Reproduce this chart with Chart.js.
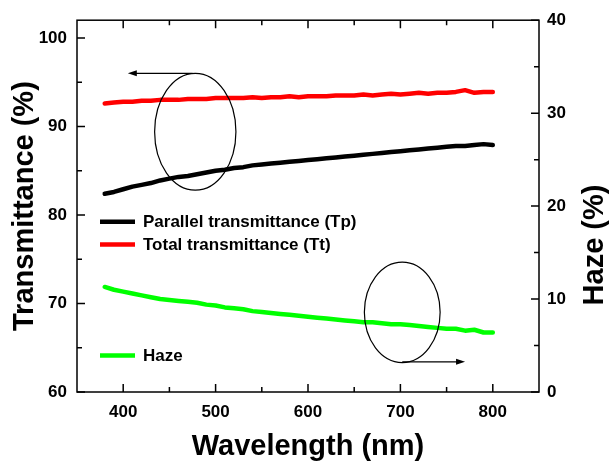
<!DOCTYPE html>
<html>
<head>
<meta charset="utf-8">
<script src="https://cdn.jsdelivr.net/npm/chart.js@4"></script>
<style>
html, body { margin: 0; padding: 0; background: #fff; }
</style>
</head>
<body>
<canvas id="chart" width="615" height="462"></canvas>
<script>
// wavelength (nm), read every 10 nm from the figure
const wavelength = [380,390,400,410,420,430,440,450,460,470,480,490,500,510,520,530,540,550,560,570,580,590,600,
  610,620,630,640,650,660,670,680,690,700,710,720,730,740,750,760,770,780,790,800];
// parallel transmittance Tp (%)  -> left axis
const parallelT = [82.4,82.6,82.9,83.2,83.4,83.6,83.9,84.1,84.3,84.4,84.6,84.8,85.0,85.1,85.3,85.4,85.6,85.7,85.8,85.9,86.0,86.1,86.2,
  86.3,86.4,86.5,86.6,86.7,86.8,86.9,87.0,87.1,87.2,87.3,87.4,87.5,87.6,87.7,87.8,87.8,87.9,88.0,87.9];
// total transmittance Tt (%)  -> left axis
const totalT = [92.6,92.7,92.8,92.8,92.9,92.9,93.0,93.0,93.0,93.1,93.1,93.1,93.2,93.2,93.2,93.2,93.3,93.2,93.3,93.3,93.4,93.3,93.4,
  93.4,93.4,93.5,93.5,93.5,93.6,93.5,93.6,93.7,93.6,93.7,93.8,93.7,93.8,93.8,93.9,94.1,93.8,93.9,93.9];
// haze (%)  -> right axis
const haze = [11.3,11.0,10.8,10.6,10.4,10.2,10.0,9.9,9.8,9.7,9.6,9.4,9.3,9.1,9.0,8.9,8.7,8.6,8.5,8.4,8.3,8.2,8.1,
  8.0,7.9,7.8,7.7,7.6,7.5,7.5,7.4,7.3,7.3,7.2,7.1,7.0,6.9,6.8,6.8,6.6,6.7,6.4,6.4];

const xTicks = [400, 500, 600, 700, 800];
const leftTicks = [60, 70, 80, 90, 100];
const rightTicks = [0, 10, 20, 30, 40];

const FONT = "'Liberation Sans', Arial, sans-serif";

function pts(ys) {
  return wavelength.map((x, i) => ({ x: x, y: ys[i] }));
}

// frame, inward ticks (major + minor), circles/arrows, legend, right title
const decor = {
  id: 'decor',
  afterDatasetsDraw(chart) {
    const ctx = chart.ctx;
    const a = chart.chartArea;
    const sx = chart.scales.x, sl = chart.scales.yL, sr = chart.scales.yR;
    ctx.save();
    ctx.strokeStyle = '#000';
    ctx.lineWidth = 1.5;
    ctx.strokeRect(a.left, a.top, a.right - a.left, a.bottom - a.top);

    function tickSet(list) {
      const out = [];
      for (let i = 0; i < list.length; i++) {
        out.push([list[i], 8]);
        if (i < list.length - 1) out.push([(list[i] + list[i + 1]) / 2, 5]);
      }
      return out;
    }
    ctx.beginPath();
    tickSet(xTicks).forEach(([v, len]) => {
      const px = sx.getPixelForValue(v);
      ctx.moveTo(px, a.bottom); ctx.lineTo(px, a.bottom - len);
      ctx.moveTo(px, a.top); ctx.lineTo(px, a.top + len);
    });
    tickSet(leftTicks).forEach(([v, len]) => {
      const py = sl.getPixelForValue(v);
      ctx.moveTo(a.left, py); ctx.lineTo(a.left + len, py);
    });
    tickSet(rightTicks).forEach(([v, len]) => {
      const py = sr.getPixelForValue(v);
      ctx.moveTo(a.right, py); ctx.lineTo(a.right - len, py);
    });
    ctx.stroke();

    // circles with arrows pointing to the axes
    ctx.lineWidth = 1.2;
    function ellipse(xv, yv, dx, dy, scale) {
      const cx = sx.getPixelForValue(xv), cy = scale.getPixelForValue(yv);
      const rx = sx.getPixelForValue(xv + dx) - cx;
      const ry = scale.getPixelForValue(yv - dy) - cy;
      ctx.beginPath();
      ctx.ellipse(cx, cy, rx, ry, 0, 0, Math.PI * 2);
      ctx.stroke();
    }
    function arrow(x1, x2, yv, scale) {
      const p1 = sx.getPixelForValue(x1), p2 = sx.getPixelForValue(x2), py = scale.getPixelForValue(yv);
      const d = p2 > p1 ? 1 : -1;
      ctx.beginPath();
      ctx.moveTo(p1, py); ctx.lineTo(p2 - d * 6, py);
      ctx.stroke();
      ctx.beginPath();
      ctx.moveTo(p2, py); ctx.lineTo(p2 - d * 9, py - 3); ctx.lineTo(p2 - d * 9, py + 3);
      ctx.closePath();
      ctx.fillStyle = '#000';
      ctx.fill();
    }
    ellipse(478, 89.4, 44, 6.6, sl);
    arrow(475, 405, 96.0, sl);
    ellipse(702, 8.57, 41, 5.4, sr);
    arrow(702, 770, 3.25, sr);

    // legend
    const rows = [221.7, 244.5, 355.5];
    ctx.font = 'bold 17px ' + FONT;
    ctx.textBaseline = 'middle';
    ctx.textAlign = 'left';
    chart.data.datasets.forEach((ds, i) => {
      ctx.strokeStyle = ds.borderColor;
      ctx.lineWidth = 4.5;
      ctx.beginPath();
      ctx.moveTo(a.left + 23, rows[i]); ctx.lineTo(a.left + 58, rows[i]);
      ctx.stroke();
      ctx.fillStyle = '#000';
      ctx.fillText(ds.label, a.left + 66, rows[i] + 1);
    });

    // right axis title, reading bottom to top like the left one
    ctx.font = 'bold 29px ' + FONT;
    ctx.textAlign = 'center';
    ctx.translate(595, 245);
    ctx.rotate(-Math.PI / 2);
    ctx.fillText('Haze (%)', 0, 0);
    ctx.restore();
  }
};

const tickFont = { family: FONT, size: 17, weight: 'bold' };
const titleFont = { family: FONT, size: 29, weight: 'bold' };

new Chart(document.getElementById('chart'), {
  type: 'line',
  data: {
    datasets: [
      { label: 'Parallel transmittance (Tp)', data: pts(parallelT), yAxisID: 'yL',
        borderColor: '#000000', backgroundColor: '#000000' },
      { label: 'Total transmittance (Tt)', data: pts(totalT), yAxisID: 'yL',
        borderColor: '#ff0000', backgroundColor: '#ff0000' },
      { label: 'Haze', data: pts(haze), yAxisID: 'yR',
        borderColor: '#00ff00', backgroundColor: '#00ff00' }
    ]
  },
  options: {
    responsive: false,
    animation: false,
    layout: { padding: { top: 19, left: 0, right: 0, bottom: 0 } },
    elements: {
      point: { radius: 0 },
      line: { borderWidth: 4.5, tension: 0, borderCapStyle: 'round', borderJoinStyle: 'round' }
    },
    plugins: { legend: { display: false }, tooltip: { enabled: false } },
    scales: {
      x: {
        type: 'linear', position: 'bottom', min: 350, max: 850,
        afterBuildTicks: s => { s.ticks = xTicks.map(v => ({ value: v })); },
        afterFit: s => { s.height = 70; },
        grid: { display: false, drawTicks: false },
        border: { display: false },
        ticks: { color: '#000', font: tickFont, padding: 10, maxRotation: 0 },
        title: { display: true, text: 'Wavelength (nm)', color: '#000', font: titleFont, padding: { top: 0, bottom: -2 } }
      },
      yL: {
        type: 'linear', position: 'left', min: 60, max: 102,
        afterBuildTicks: s => { s.ticks = leftTicks.map(v => ({ value: v })); },
        afterFit: s => { s.width = 77; },
        grid: { display: false, drawTicks: false },
        border: { display: false },
        ticks: { color: '#000', font: tickFont, padding: 10 },
        title: { display: true, text: 'Transmittance (%)', color: '#000', font: titleFont, padding: { top: 8, bottom: 0 } }
      },
      yR: {
        type: 'linear', position: 'right', min: 0, max: 40,
        afterBuildTicks: s => { s.ticks = rightTicks.map(v => ({ value: v })); },
        afterFit: s => { s.width = 76; },
        grid: { display: false, drawTicks: false },
        border: { display: false },
        ticks: { color: '#000', font: tickFont, padding: 8 }
      }
    }
  },
  plugins: [decor]
});
</script>
</body>
</html>
